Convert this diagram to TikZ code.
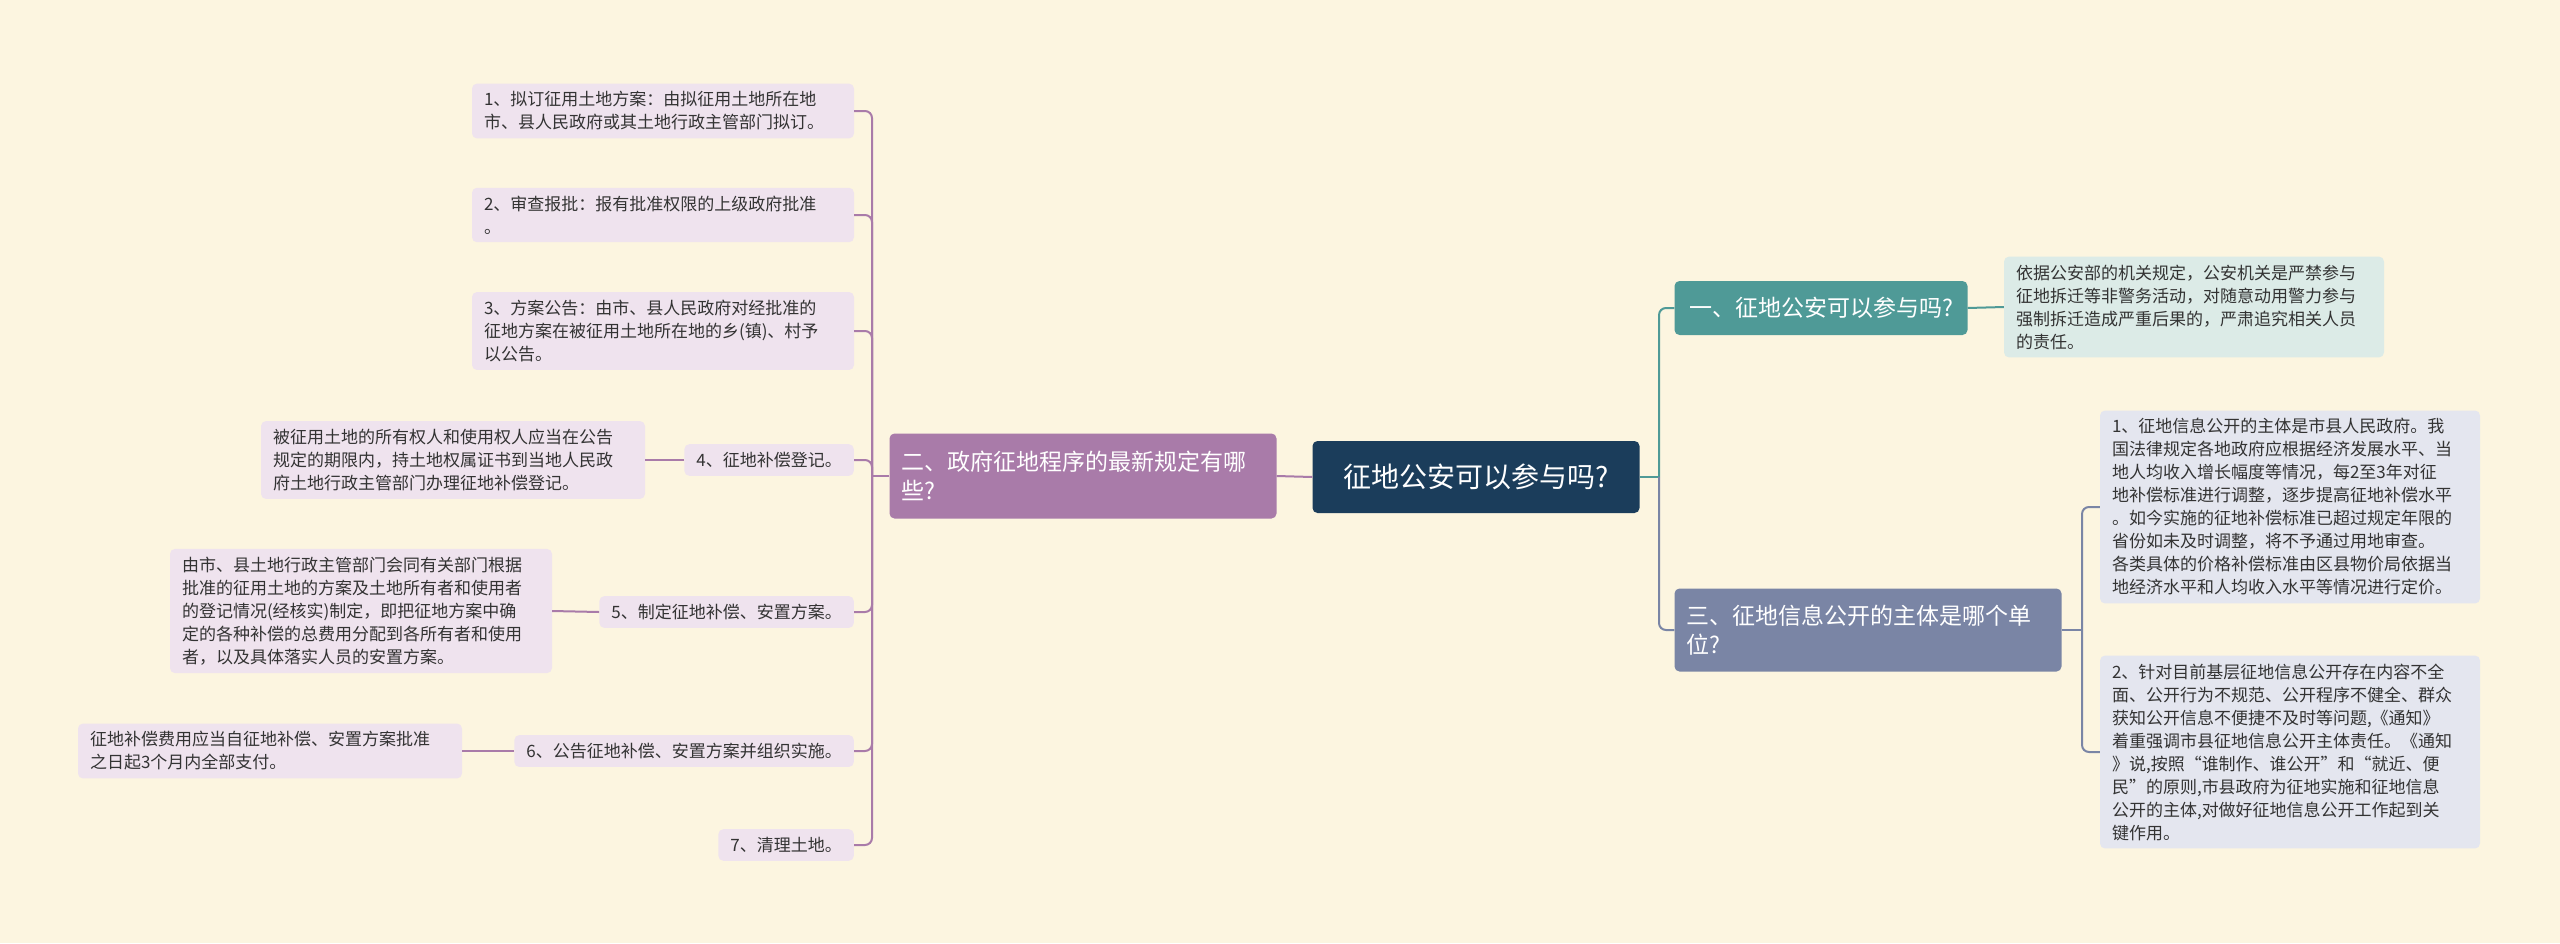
\documentclass[tikz,border=0pt]{standalone}
\usepackage{fontspec}
\setmainfont{Noto Sans CJK SC}
\usepackage{tikz}
\definecolor{bgc}{HTML}{FCF5E0}
\definecolor{rootc}{HTML}{1B3D5B}
\definecolor{purp}{HTML}{A97BA9}
\definecolor{purpl}{HTML}{EFE3EE}
\definecolor{teal}{HTML}{4F9A97}
\definecolor{teall}{HTML}{DCEBE7}
\definecolor{slate}{HTML}{7A85A5}
\definecolor{slatel}{HTML}{E4E6EF}
\definecolor{txt}{HTML}{333333}
\tikzset{
  box/.style={rounded corners=5pt, inner xsep=12pt, inner ysep=8pt, align=left, text=txt,
    font=\fontsize{17}{23}\selectfont},
  leafL/.style={box, fill=purpl},
  leafT/.style={box, fill=teall, text width=356pt},
  leafS/.style={box, fill=slatel, text width=356pt},
  lkP/.style={draw=purp, line width=2pt, rounded corners=7pt},
  lkT/.style={draw=teal, line width=2pt, rounded corners=7pt},
  lkS/.style={draw=slate, line width=2pt, rounded corners=7pt}
}
\begin{document}
\begin{tikzpicture}[x=1pt,y=-1pt]
        % Background
        \fill[bgc] (0,0) rectangle (2560,943);
        \useasboundingbox (0,0) rectangle (2560,943);

        % Root and branches
        \node[fill=rootc, text=white, rounded corners=5pt, minimum width=327pt, minimum height=72pt,
          font=\fontsize{28}{34}\selectfont] at (1476,477) (root) {征地公安可以参与吗?};
        \node[box, fill=purp, text=white, text width=363pt, minimum height=85pt,
          font=\fontsize{23}{29}\selectfont] at (1083,476) (b2) {二、政府征地程序的最新规定有哪\\些?};
        \node[box, fill=teal, text=white, minimum width=293pt, minimum height=54pt,
          font=\fontsize{23}{29}\selectfont] at (1821,308) (b1) {一、征地公安可以参与吗?};
        \node[box, fill=slate, text=white, text width=363pt, minimum height=83pt,
          font=\fontsize{23}{29}\selectfont] at (1868,630) (b3) {三、征地信息公开的主体是哪个单\\位?};

        % Left leaves
        \node[leafL, text width=358pt] at (663,111) (l1) {1、拟订征用土地方案：由拟征用土地所在地\\市、县人民政府或其土地行政主管部门拟订。};
        \node[leafL, text width=358pt] at (663,215) (l2) {2、审查报批：报有批准权限的上级政府批准\\。};
        \node[leafL, text width=358pt] at (663,331) (l3) {3、方案公告：由市、县人民政府对经批准的\\征地方案在被征用土地所在地的乡(镇)、村予\\以公告。};
        \node[leafL, anchor=east] at (854,460) (l4) {4、征地补偿登记。};
        \node[leafL, text width=360pt] at (453,460) (d4) {被征用土地的所有权人和使用权人应当在公告\\规定的期限内，持土地权属证书到当地人民政\\府土地行政主管部门办理征地补偿登记。};
        \node[leafL, anchor=east] at (854,612) (l5) {5、制定征地补偿、安置方案。};
        \node[leafL, text width=358pt] at (361,611) (d5) {由市、县土地行政主管部门会同有关部门根据\\批准的征用土地的方案及土地所有者和使用者\\的登记情况(经核实)制定，即把征地方案中确\\定的各种补偿的总费用分配到各所有者和使用\\者，以及具体落实人员的安置方案。};
        \node[leafL, anchor=east] at (854,751) (l6) {6、公告征地补偿、安置方案并组织实施。};
        \node[leafL, text width=360pt] at (270,751) (d6) {征地补偿费用应当自征地补偿、安置方案批准\\之日起3个月内全部支付。};
        \node[leafL, anchor=east] at (854,845) (l7) {7、清理土地。};

        % Right leaves
        \node[leafT] at (2194,307) (t1) {依据公安部的机关规定，公安机关是严禁参与\\征地拆迁等非警务活动，对随意动用警力参与\\强制拆迁造成严重后果的，严肃追究相关人员\\的责任。};
        \node[leafS] at (2290,507) (s1) {1、征地信息公开的主体是市县人民政府。我\\国法律规定各地政府应根据经济发展水平、当\\地人均收入增长幅度等情况，每2至3年对征\\地补偿标准进行调整，逐步提高征地补偿水平\\。如今实施的征地补偿标准已超过规定年限的\\省份如未及时调整，将不予通过用地审查。\\各类具体的价格补偿标准由区县物价局依据当\\地经济水平和人均收入水平等情况进行定价。};
        \node[leafS] at (2290,752) (s2) {2、针对目前基层征地信息公开存在内容不全\\面、公开行为不规范、公开程序不健全、群众\\获知公开信息不便捷不及时等问题,《通知》\\着重强调市县征地信息公开主体责任。《通知\\》说,按照“谁制作、谁公开”和“就近、便\\民”的原则,市县政府为征地实施和征地信息\\公开的主体,对做好征地信息公开工作起到关\\键作用。};

        % Connectors
        \coordinate (lt) at (872,476);
        \coordinate (rt) at (1659,477);
        \coordinate (st) at (2082,630);
        \draw[lkP] (root.west) -- (b2.east);
        \draw[lkP] (b2.west) -- (lt);
        \foreach \n in {l1,l2,l3,l4,l5,l6,l7} \draw[lkP] (lt) |- (\n.east);
        \draw[lkP] (l4.west) -- (d4.east);
        \draw[lkP] (l5.west) -- (d5.east);
        \draw[lkP] (l6.west) -- (d6.east);
        \draw[lkT] (root.east) -- (rt);
        \draw[lkT] (rt) |- (b1.west);
        \draw[lkS] (rt) |- (b3.west);
        \draw[lkT] (b1.east) -- (t1.west);
        \draw[lkS] (b3.east) -- (st);
        \draw[lkS] (st) |- (s1.west);
        \draw[lkS] (st) |- (s2.west);
\end{tikzpicture}
\end{document}
